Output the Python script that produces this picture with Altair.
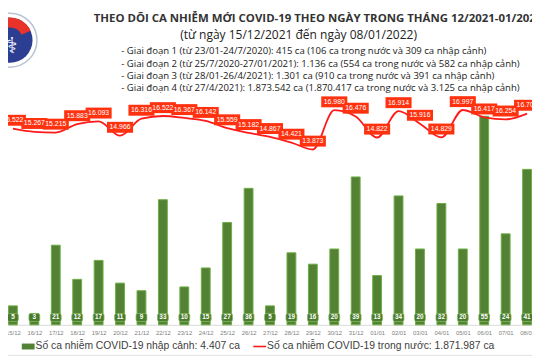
import altair as alt
import pandas as pd

dates = ["15/12", "16/12", "17/12", "18/12", "19/12", "20/12", "21/12", "22/12", "23/12",
         "24/12", "25/12", "26/12", "27/12", "28/12", "29/12", "30/12", "31/12", "01/01",
         "02/01", "03/01", "04/01", "05/01", "06/01", "07/01", "08/01"]
imported = [5, 3, 21, 12, 17, 11, 9, 33, 10, 15, 27, 36, 5, 19, 16, 20, 39, 13, 34, 20, 32, 20, 55, 24, 41]
domestic = [15522, 15267, 15215, 15883, 16093, 14966, 16316, 16522, 16367, 16142, 15559, 15182,
            14867, 14421, 13873, 16980, 16476, 14822, 16914, 15916, 14829, 16997, 16417, 16254, 16709]

title_text = "THEO DÕI CA NHIỄM MỚI COVID-19 THEO NGÀY TRONG THÁNG 12/2021-01/2022"
subtitle_text = "(từ ngày 15/12/2021 đến ngày 08/01/2022)"
phase_lines = [
    "- Giai đoạn 1 (từ 23/01-24/7/2020): 415 ca (106 ca trong nước và 309 ca nhập cảnh)",
    "- Giai đoạn 2 (từ 25/7/2020-27/01/2021): 1.136 ca (554 ca trong nước và 582 ca nhập cảnh)",
    "- Giai đoạn 3 (từ 28/01-26/4/2021): 1.301 ca (910 ca trong nước và 391 ca nhập cảnh)",
    "- Giai đoạn 4 (từ 27/4/2021): 1.873.542 ca (1.870.417 ca trong nước và 3.125 ca nhập cảnh)",
]
legend_bar = "Số ca nhiễm COVID-19 nhập cảnh: 4.407 ca"
legend_line = "Số ca nhiễm COVID-19 trong nước: 1.871.987 ca"
logo_text = "⚕"

df = pd.DataFrame({
    "idx": list(range(len(dates))),
    "date": dates,
    "imported": imported,
    "domestic": domestic,
})
df["dlabel"] = df["domestic"].map(lambda v: f"{v:,}".replace(",", "."))

label_arr = "[" + ",".join(f"'{d}'" for d in dates) + "]"

X = alt.X("idx:Q",
          scale=alt.Scale(domain=[0, len(dates) - 1], nice=False, zero=False),
          axis=alt.Axis(values=list(range(len(dates))), labelExpr=f"{label_arr}[datum.value]",
                        title=None, ticks=False, tickSize=0, labelPadding=5, labelFontSize=6,
                        labelColor="#808080", labelFont="Liberation Sans", domain=True,
                        domainColor="#d9d9d9", grid=False, labelOverlap=False, labelFlush=False))

bar_scale = alt.Scale(domain=[0, 60], nice=False, zero=True)
line_scale = alt.Scale(domain=[0, 18000], nice=False, zero=True)

base = alt.Chart(df)

bars = base.mark_bar(size=9, fill="#548235", stroke="#6fae45", strokeWidth=1).encode(
    x=X, y=alt.Y("imported:Q", scale=bar_scale, axis=None))
bar_boxes = base.mark_bar(size=11, cornerRadius=2, fill="#4a7a2c", stroke="#86bb62", strokeWidth=0.8).encode(
    x=X, y=alt.datum(0.9, scale=bar_scale, axis=None), y2=alt.datum(3.0))
bar_texts = base.mark_text(fontSize=6.5, fontWeight="bold", color="white", font="Liberation Sans",
                           baseline="middle").encode(
    x=X, y=alt.datum(1.95, scale=bar_scale, axis=None), text="imported:Q")
bar_group = alt.layer(bars, bar_boxes, bar_texts)

line = base.mark_line(color="#ff1a1a", strokeWidth=1.8, interpolate="monotone").encode(
    x=X, y=alt.Y("domestic:Q", scale=line_scale,
                  axis=alt.Axis(values=list(range(0, 18001, 2000)), grid=True, labels=False,
                                ticks=False, domain=False, title=None, gridColor="#e3e3e3",
                                gridWidth=1, orient="left")))
line_boxes = base.mark_point(shape="M-1,-0.42H1V0.42H-1Z", size=700, filled=True, opacity=1,
                             color="#ff3210", yOffset=-8.5).encode(
    x=X, y=alt.Y("domestic:Q", scale=line_scale, axis=None))
line_texts = base.mark_text(fontSize=7, color="white", font="Liberation Sans", dy=-8.5,
                            baseline="middle").encode(
    x=X, y=alt.Y("domestic:Q", scale=line_scale, axis=None), text="dlabel:N")
line_group = alt.layer(line, line_boxes, line_texts)

one = lambda v: alt.Chart(pd.DataFrame({"t": [v]}))

title = one(title_text).mark_text(align="left", baseline="middle", fontSize=11.6, fontWeight="bold",
                                  font="Open Sans", color="#333333").encode(
    x=alt.value(87), y=alt.value(-79), text="t:N")
subtitle = one(subtitle_text).mark_text(align="center", baseline="middle", fontSize=12.2,
                                        font="Open Sans", color="#222222").encode(
    x=alt.value(295), y=alt.value(-63), text="t:N")
phase_y = [-47, -34, -22, -9]
phases = [one(t).mark_text(align="left", baseline="middle", fontSize=9.7, font="Open Sans",
                           color="#1a1a1a").encode(x=alt.value(115), y=alt.value(yy), text="t:N")
          for t, yy in zip(phase_lines, phase_y)]

logo_outer = one("o").mark_point(shape="circle", size=3000, filled=True, color="white",
                                 stroke="#b9c3d6", strokeWidth=1.5, opacity=1).encode(
    x=alt.value(2), y=alt.value(-58))
logo_blue = one("b").mark_point(shape="circle", size=2100, filled=True, color="#2c3e91",
                                opacity=1).encode(x=alt.value(2), y=alt.value(-58))
logo_red = one("r").mark_arc(theta=5.15, theta2=7.42, radius=23, radius2=13, color="#e8332a").encode(
    x=alt.value(2), y=alt.value(-58))
logo_sym = one(logo_text).mark_text(fontSize=22, color="white", font="DejaVu Sans",
                                    baseline="middle").encode(
    x=alt.value(4), y=alt.value(-52), text="t:N")

leg_sq = one("g").mark_rect(color="#548235").encode(
    x=alt.value(14), x2=alt.value(27), y=alt.value(250), y2=alt.value(256))
leg_t1 = one(legend_bar).mark_text(align="left", baseline="middle", fontSize=10.5,
                                   font="Liberation Sans", color="#404040").encode(
    x=alt.value(28), y=alt.value(253), text="t:N")
leg_ln = one("l").mark_rule(color="#ff1a1a", strokeWidth=1.6).encode(
    x=alt.value(249), x2=alt.value(262), y=alt.value(253))
leg_t2 = one(legend_line).mark_text(align="left", baseline="middle", fontSize=10.5,
                                    font="Liberation Sans", color="#404040").encode(
    x=alt.value(263), y=alt.value(253), text="t:N")
bottom_rule = one("r").mark_rule(color="#e2e2e2", strokeWidth=1).encode(
    x=alt.value(-10), x2=alt.value(540), y=alt.value(262))

chart = alt.layer(
    bar_group, line_group, title, subtitle, *phases,
    logo_outer, logo_blue, logo_red, logo_sym,
    leg_sq, leg_t1, leg_ln, leg_t2, bottom_rule
).resolve_scale(y="independent").properties(
    width=532, height=231,
    padding={"left": 0, "top": 88, "right": 0, "bottom": 33},
    autosize=alt.AutoSizeParams(type="none"),
    background="white",
).configure_view(stroke=None)

chart.save("out.html", embed_options={"renderer": "svg", "actions": False})
